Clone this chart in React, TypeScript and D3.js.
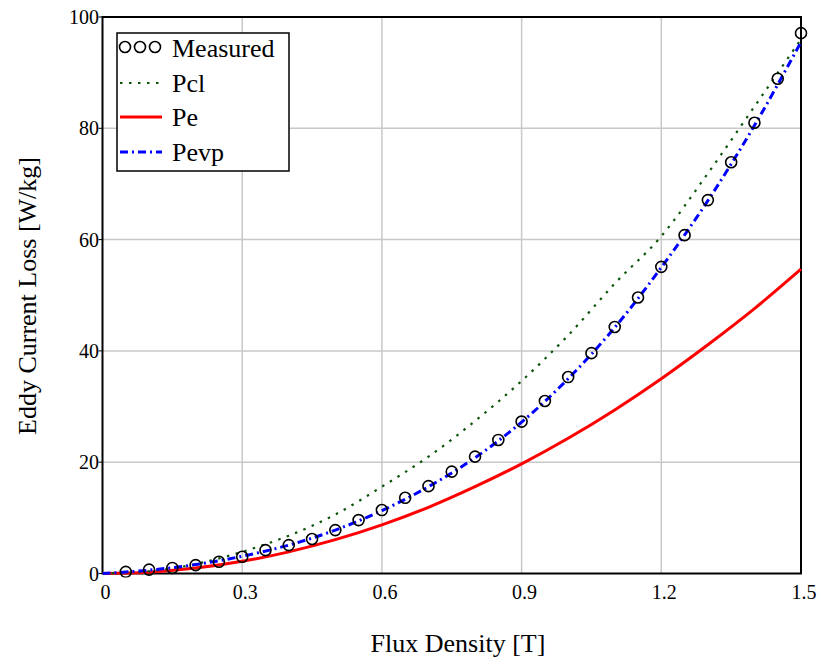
import React from "react";
import * as d3 from "d3";

const fluxB = [0, 0.1, 0.2, 0.3, 0.4, 0.5, 0.6, 0.7, 0.8, 0.9, 1.0, 1.1, 1.2, 1.3, 1.4, 1.5];
const pclValues = [0, 0.4, 1.7, 3.9, 6.8, 10.6, 15.6, 21.0, 27.4, 34.6, 42.8, 52.1, 60.6, 71.9, 83.9, 96.0];
const peValues = [0, 0.24, 0.97, 2.19, 3.89, 6.08, 8.75, 11.9, 15.6, 19.7, 24.3, 29.4, 35.0, 41.1, 47.6, 54.7];
const pevpValues = [0, 0.6, 1.6, 3.1, 5.1, 7.8, 11.3, 15.6, 20.8, 27.2, 35.0, 44.2, 55.0, 67.0, 80.5, 95.5];

const measuredB = [0.05, 0.1, 0.15, 0.2, 0.25, 0.3, 0.35, 0.4, 0.45, 0.5, 0.55, 0.6, 0.65, 0.7, 0.75, 0.8, 0.85, 0.9, 0.95, 1.0, 1.05, 1.1, 1.15, 1.2, 1.25, 1.3, 1.35, 1.4, 1.45, 1.5];
const measuredValues = [0.3, 0.7, 1.0, 1.5, 2.1, 3.0, 4.2, 5.1, 6.2, 7.8, 9.6, 11.4, 13.6, 15.7, 18.3, 21.0, 24.0, 27.3, 31.0, 35.3, 39.6, 44.3, 49.6, 55.1, 60.8, 67.1, 73.9, 81.0, 88.9, 97.1];

const xTicks = [0, 0.3, 0.6, 0.9, 1.2, 1.5];
const xTickLabels = ["0", "0.3", "0.6", "0.9", "1.2", "1.5"];
const yTicks = [0, 20, 40, 60, 80, 100];
const yTickLabels = ["0", "20", "40", "60", "80", "100"];
const legendLabels = ["Measured", "Pcl", "Pe", "Pevp"];

const W = 819;
const H = 658;
const L = 102.5;
const R = 801;
const T = 17;
const B = 573.5;
const FONT = "'Liberation Serif', 'Times New Roman', serif";

export default function App() {
  const x = d3.scaleLinear().domain([0, 1.5]).range([L, R]);
  const y = d3.scaleLinear().domain([0, 100]).range([B, T]);
  const line = (vals: number[]) =>
    d3
      .line<number>()
      .x((_, i) => x(fluxB[i]))
      .y((v) => y(v))
      .curve(d3.curveMonotoneX)(vals) || "";

  const green = "#0b560b";
  const legX = 117;
  const legY = 33;
  const rowY = [48, 83, 117, 152];

  return (
    <svg
      width={W}
      height={H}
      style={{ position: "absolute", left: 0, top: 0, background: "#fff" }}
      fontFamily={FONT}
    >
      <rect x={0} y={0} width={W} height={H} fill="#fff" />
      <defs>
        <clipPath id="plotclip">
          <rect x={L} y={T - 8} width={R - L + 8} height={B - T + 12} />
        </clipPath>
      </defs>
      {xTicks.slice(1, -1).map((t) => (
        <line key={"gx" + t} x1={x(t)} x2={x(t)} y1={T} y2={B} stroke="#c8c8c8" strokeWidth={1.5} />
      ))}
      {yTicks.slice(1, -1).map((t) => (
        <line key={"gy" + t} x1={L} x2={R} y1={y(t)} y2={y(t)} stroke="#c8c8c8" strokeWidth={1.5} />
      ))}
      {yTicks.map((t) => (
        <line key={"ty" + t} x1={L - 4} x2={L} y1={y(t)} y2={y(t)} stroke="#000" strokeWidth={1} />
      ))}
      <rect x={L} y={T} width={R - L} height={B - T} fill="none" stroke="#000" strokeWidth={2} />

      <g clipPath="url(#plotclip)">
        <path d={line(peValues)} fill="none" stroke="#ff0000" strokeWidth={3} />
        <path d={line(pclValues)} fill="none" stroke={green} strokeWidth={2.2} strokeDasharray="2.5,6.5" />
        <path d={line(pevpValues)} fill="none" stroke="#0000ff" strokeWidth={3} strokeDasharray="8,4,2,4" />
        {measuredB.map((b, i) => (
          <circle key={"m" + i} cx={x(b)} cy={y(measuredValues[i])} r={5.5} fill="none" stroke="#000" strokeWidth={1.6} />
        ))}
      </g>

      {xTicks.map((t, i) => (
        <text key={"xl" + t} x={x(t) + 3} y={599} fontSize={20} textAnchor="middle" fill="#000">
          {xTickLabels[i]}
        </text>
      ))}
      {yTicks.map((t, i) => (
        <text key={"yl" + t} x={99} y={y(t) + 7} fontSize={20} textAnchor="end" fill="#000">
          {yTickLabels[i]}
        </text>
      ))}

      <text x={458} y={652} fontSize={26} textAnchor="middle" fill="#000">
        Flux Density [T]
      </text>
      <text transform={`translate(36,296) rotate(-90)`} fontSize={26} textAnchor="middle" fill="#000">
        Eddy Current Loss [W/kg]
      </text>

      <rect x={legX} y={legY} width={172} height={138} fill="#fff" stroke="#000" strokeWidth={1.5} />
      {[125, 140, 155].map((cx) => (
        <circle key={"lc" + cx} cx={cx} cy={rowY[0] - 1} r={5.5} fill="none" stroke="#000" strokeWidth={1.6} />
      ))}
      <line x1={120} x2={162} y1={rowY[1]} y2={rowY[1]} stroke={green} strokeWidth={2.2} strokeDasharray="2.5,6.5" />
      <line x1={120} x2={162} y1={rowY[2]} y2={rowY[2]} stroke="#ff0000" strokeWidth={3} />
      <line x1={120} x2={162} y1={rowY[3]} y2={rowY[3]} stroke="#0000ff" strokeWidth={3} strokeDasharray="8,4,2,4" />
      {legendLabels.map((lab, i) => (
        <text key={lab} x={172} y={rowY[i] + 9} fontSize={26} fill="#000">
          {lab}
        </text>
      ))}
    </svg>
  );
}
